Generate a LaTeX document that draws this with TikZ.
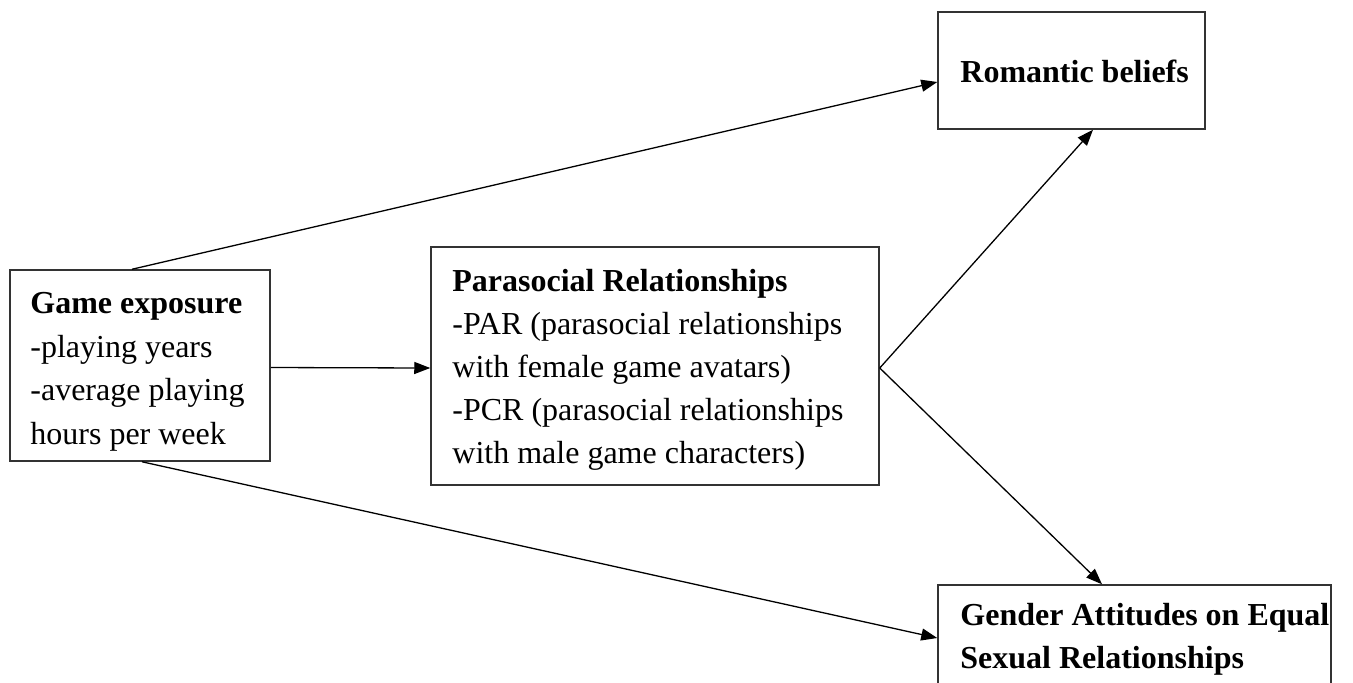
\documentclass[tikz,border=0pt]{standalone}
\usepackage{fontspec}
\setmainfont{Liberation Serif}
\usetikzlibrary{arrows.meta,calc}
\begin{document}
\begin{tikzpicture}[x=0.5pt,y=-0.5pt,
  box/.style={draw=black!80,line width=0.75pt,rectangle,inner sep=0pt,fill=none},
  txt/.style={anchor=base west,inner sep=0pt,font=\fontsize{16}{20}\selectfont},
  btxt/.style={txt,font=\fontsize{16}{20}\selectfont\bfseries},
  arr/.style={line width=0.65pt,-{Triangle[length=8pt,width=6pt]}}]
\clip (0,0) rectangle (1353,682);
\fill[white] (0,0) rectangle (1353,682);
% boxes
\node[box,minimum width=130pt,minimum height=95.5pt] (game) at (140,365.5) {};
\node[box,minimum width=224pt,minimum height=119pt] (par) at (655,366) {};
\node[box,minimum width=133.5pt,minimum height=58.5pt] (rom) at (1071.5,70.5) {};
\node[box,minimum width=196.5pt,minimum height=77.5pt] (gen) at (1134.5,662.5) {};
% texts
\node[btxt] (g1) at (30,313) {Game exposure};
\node[txt] (g2) at (30,357) {-playing years};
\node[txt] (g3) at (30,400) {-average playing};
\node[txt] (g4) at (30,444) {hours per week};
\node[btxt] (p1) at (452,291) {Parasocial Relationships};
\node[txt] (p2) at (452,334) {-PAR (parasocial relationships};
\node[txt] (p3) at (452,377) {with female game avatars)};
\node[txt] (p4) at (452,420) {-PCR (parasocial relationships};
\node[txt] (p5) at (452,463) {with male game characters)};
\node[btxt] (r1) at (960,82) {Romantic beliefs};
\node[btxt] (e1) at (960,625) {Gender Attitudes on Equal};
\node[btxt] (e2) at (960,668) {Sexual Relationships};
% connectors
\coordinate (pv) at ([yshift=-1pt]par.east);
\draw[arr] ([xshift=-4pt]game.north) -- ([yshift=-5.75pt]rom.west);
\draw[arr] ([yshift=-1pt]game.east) -- ([yshift=-1pt]par.west);
\draw[arr] ([xshift=1pt]game.south) -- ([yshift=12.25pt]gen.west);
\draw[arr] (pv) -- ([xshift=10.75pt]rom.south);
\draw[arr] (pv) -- ([xshift=-16.25pt]gen.north);
\end{tikzpicture}
\end{document}
